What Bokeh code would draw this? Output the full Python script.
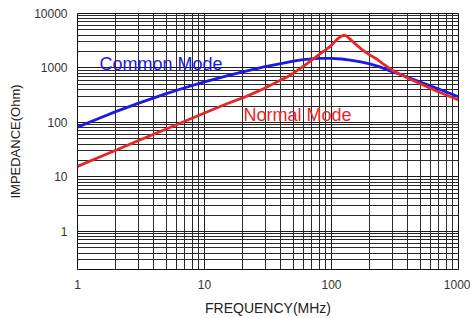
from bokeh.plotting import figure
from bokeh.models import FixedTicker, PrintfTickFormatter
from bokeh.core.properties import value
from bokeh.embed import file_html
from bokeh.resources import INLINE

# Common Mode impedance (Ohm) vs frequency (MHz)
freq_cm = [1, 1.5, 2, 3, 5, 7, 10, 15, 20, 30, 40, 50, 60, 70, 80, 90, 100,
           120, 140, 170, 200, 240, 300, 340, 400, 500, 700, 1000]
z_cm = [82, 121, 158, 224, 338, 434, 555, 718, 847, 1057, 1205, 1330, 1420,
        1475, 1500, 1505, 1496, 1462, 1396, 1288, 1189, 1047, 851, 776, 676,
        550, 411, 296]

# Normal Mode impedance (Ohm) vs frequency (MHz)
freq_nm = [1, 2, 3, 5, 7, 10, 15, 20, 30, 40, 45, 50, 55, 60, 65, 70, 75, 80,
           90, 100, 105, 110, 115, 120, 125, 130, 140, 150, 160, 175, 200, 225,
           250, 300, 350, 400, 500, 700, 1000]
z_nm = [15.6, 31, 46, 76, 105, 149, 220, 282, 427, 605, 692, 804, 933, 1072,
        1230, 1413, 1585, 1780, 2150, 2600, 2950, 3311, 3630, 3846, 3963, 3936,
        3388, 2917, 2570, 2138, 1738, 1479, 1230, 912, 759, 653, 513, 363, 258]

# Curve labels
label_text = ["Common Mode", "Normal Mode"]
label_x = [1.49, 20.3]
label_y = [1196, 137]
label_color = ["#1a1ae6", "#e8262a"]

# Ticks
x_major = [1, 10, 100, 1000]
x_minor = [2, 3, 4, 5, 6, 7, 8, 9, 20, 30, 40, 50, 60, 70, 80, 90,
           200, 300, 400, 500, 600, 700, 800, 900]
y_major = [1, 10, 100, 1000, 10000]
y_minor = [0.2, 0.3, 0.4, 0.5, 0.6, 0.7, 0.8, 0.9, 2, 3, 4, 5, 6, 7, 8, 9,
           20, 30, 40, 50, 60, 70, 80, 90, 200, 300, 400, 500, 600, 700, 800, 900,
           2000, 3000, 4000, 5000, 6000, 7000, 8000, 9000]

FONT = "Liberation Sans"

p = figure(width=470, height=318, x_axis_type="log", y_axis_type="log",
           x_range=(1, 1000), y_range=(0.2, 10000),
           output_backend="svg", toolbar_location=None,
           min_border_left=77, min_border_right=12, min_border_top=13,
           min_border_bottom=49)

p.background_fill_color = "white"
p.border_fill_color = "white"
p.outline_line_color = "#111111"
p.outline_line_width = 1

p.xaxis.ticker = FixedTicker(ticks=x_major, minor_ticks=x_minor)
p.yaxis.ticker = FixedTicker(ticks=y_major, minor_ticks=y_minor)
p.xgrid.ticker = p.xaxis.ticker
p.ygrid.ticker = p.yaxis.ticker
p.xaxis.formatter = PrintfTickFormatter(format="%d")
p.yaxis.formatter = PrintfTickFormatter(format="%d")

for ax in (p.xaxis, p.yaxis):
    ax.axis_line_color = None
    ax.major_tick_line_color = None
    ax.minor_tick_line_color = None
    ax.major_tick_out = 0
    ax.minor_tick_out = 0
    ax.major_label_text_font = FONT
    ax.major_label_text_font_size = "12px"
    ax.major_label_text_color = "#333333"
    ax.axis_label_text_font = FONT
    ax.axis_label_text_font_style = "normal"
    ax.axis_label_text_color = "#222222"
    ax.major_label_standoff = 10
    ax.axis_label_standoff = 8

p.xaxis.axis_label = "FREQUENCY(MHz)"
p.xaxis.axis_label_text_font_size = "14px"
p.yaxis.axis_label = "IMPEDANCE(Ohm)"
p.yaxis.axis_label_text_font_size = "13px"

p.grid.grid_line_color = "#1a1a1a"
p.grid.grid_line_width = 1
p.grid.minor_grid_line_color = "#2a2a2a"
p.grid.minor_grid_line_width = 1

p.line(freq_cm, z_cm, line_color="#1a1ae6", line_width=2.8)
p.line(freq_nm, z_nm, line_color="#e8262a", line_width=2.8)

p.text(x=label_x, y=label_y, text=label_text, text_color=label_color,
       text_font=value(FONT), text_font_size="18px", text_baseline="middle",
       text_align="left")

open("out.html", "w").write(file_html(p, INLINE))
